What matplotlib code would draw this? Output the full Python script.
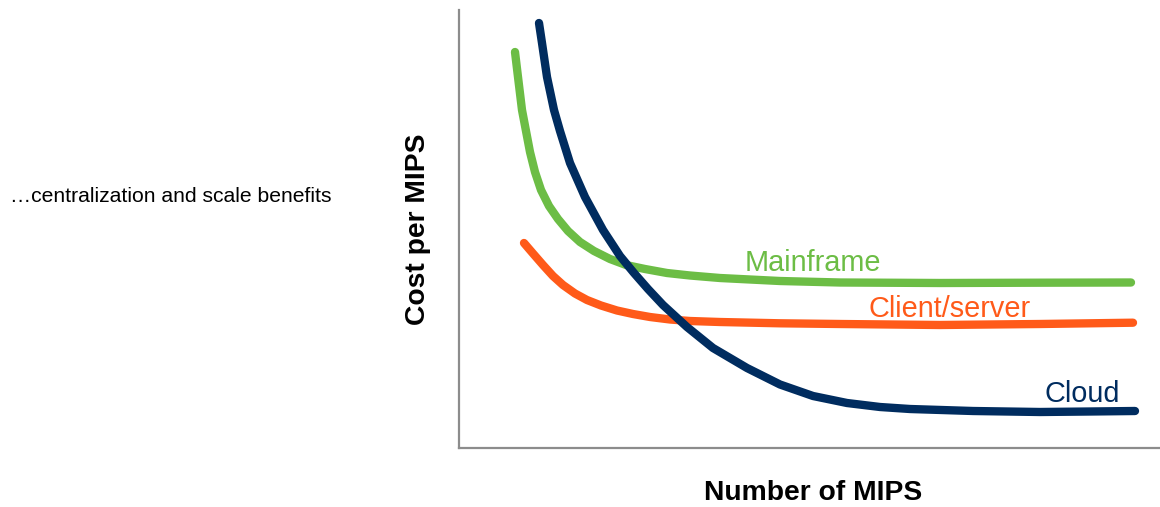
import matplotlib
matplotlib.use("Agg")
import matplotlib.pyplot as plt

plt.rcParams["font.family"] = ["Liberation Sans", "DejaVu Sans"]

# cost per MIPS vs number of MIPS (arbitrary units, origin at lower-left of the axes)
cloud_x = [80, 83, 88, 95, 101, 111, 126, 144, 161, 175, 189, 204, 228, 254, 288,
           321, 354, 388, 421, 451, 514, 581, 631, 676]
cloud_y = [425, 405, 371, 338, 317, 285, 251, 218, 192, 175, 159, 143, 121, 100, 80,
           63.5, 52, 45, 41, 39, 37, 36, 36.5, 37]

mainframe_x = [56, 59, 63, 67, 71, 76, 82, 90, 99, 109, 121, 135, 151, 167, 186, 208,
               231, 261, 321, 381, 481, 581, 672]
mainframe_y = [396, 371, 338, 317, 296, 276, 258, 242, 229, 217, 206, 197, 189, 183,
               179, 175, 172.5, 170, 167, 165.5, 165, 165.3, 165.5]

client_x = [65, 74, 84, 94, 104, 116, 128, 142, 158, 174, 191, 211, 231, 261, 321,
            381, 481, 581, 674]
client_y = [205, 194.5, 183, 172, 163, 154.5, 148, 142.5, 137.5, 134, 131, 128.5, 127,
            126, 124.7, 124, 123, 124, 125.3]

series = [
    ("Mainframe", mainframe_x, mainframe_y, "#6cbd45", (286, 177)),
    ("Client/server", client_x, client_y, "#ff5a19", (409, 131)),
    ("Cloud", cloud_x, cloud_y, "#002c5f", (585, 46)),
]

W, H = 1160, 507
fig = plt.figure(figsize=(W / 100, H / 100), dpi=100)
ax = fig.add_axes([459 / W, (H - 448) / H, (W - 459) / W, 438 / H])
ax.set_xlim(0, 701)
ax.set_ylim(0, 438)

for name, xs, ys, color, (tx, ty) in series:
    ax.plot(xs, ys, color=color, lw=6, solid_capstyle="round", solid_joinstyle="round")
    ax.text(tx, ty, name, color=color, fontsize=20.8, va="baseline", ha="left")

for side in ("top", "right"):
    ax.spines[side].set_visible(False)
for side in ("left", "bottom"):
    ax.spines[side].set_color("#8c8c8c")
    ax.spines[side].set_linewidth(1.6)
ax.set_xticks([])
ax.set_yticks([])

fig.text(813 / W, 1 - 500 / H, "Number of MIPS", fontsize=20.3, fontweight="bold",
         ha="center", va="baseline")
fig.text(418 / W, 1 - 229 / H, "Cost per MIPS", fontsize=20.3, fontweight="bold",
         ha="center", va="center", rotation=90)
fig.text(10 / W, 1 - 196 / H, "\u2026centralization and scale benefits", fontsize=15.2,
         ha="left", va="center")

fig.savefig("out.png", dpi=100)
